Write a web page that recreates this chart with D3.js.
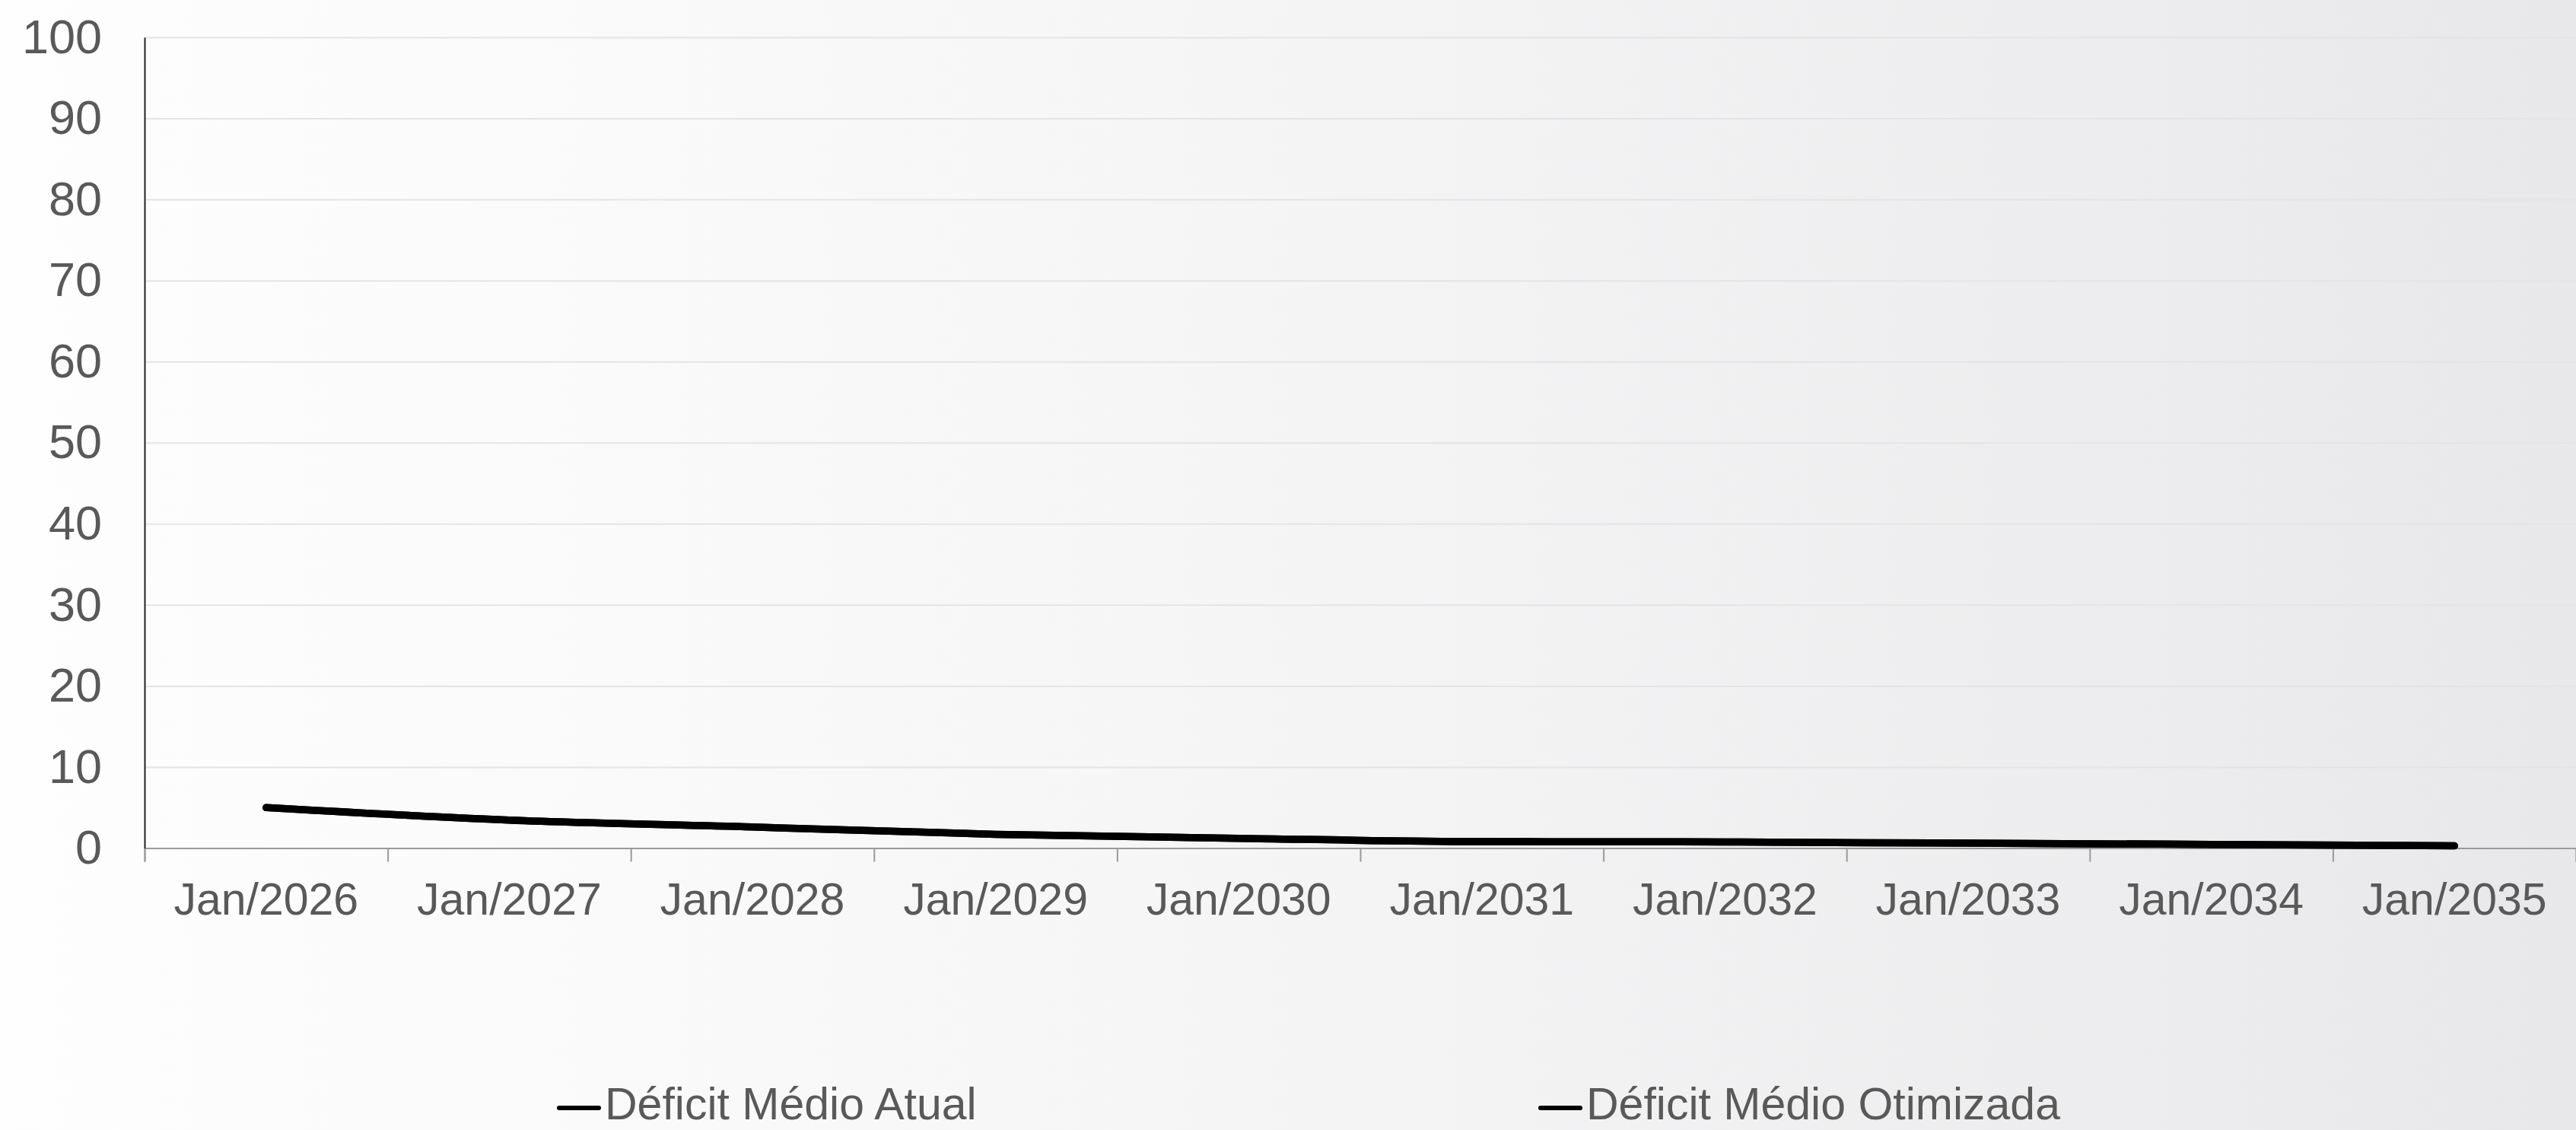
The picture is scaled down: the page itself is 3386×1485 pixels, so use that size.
<!DOCTYPE html>
<html><head><meta charset="utf-8">
<script src="https://cdn.jsdelivr.net/npm/d3@7/dist/d3.min.js"></script>
<style>
html,body{margin:0;padding:0;overflow:hidden;}
text{font-family:"Liberation Sans",Arial,sans-serif;}
</style></head>
<body>
<svg id="chart" width="3386" height="1485"></svg>
<script>
const categories = ["Jan/2026","Jan/2027","Jan/2028","Jan/2029","Jan/2030","Jan/2031","Jan/2032","Jan/2033","Jan/2034","Jan/2035"];
const deficitAtual = [5.0, 3.45, 2.6, 1.7, 1.2, 0.8, 0.75, 0.6, 0.45, 0.27];
const deficitOtimizada = [5.0, 3.45, 2.6, 1.7, 1.2, 0.8, 0.75, 0.6, 0.45, 0.27];
const yTicks = [0,10,20,30,40,50,60,70,80,90,100];
const seriesNames = ["Déficit Médio Atual","Déficit Médio Otimizada"];

const W = 3386, H = 1485;
const m = {left:190, right:0, top:49};
const svg = d3.select("#chart");
const defs = svg.append("defs");
const grad = defs.append("linearGradient").attr("id","bg").attr("x1","0").attr("y1","0").attr("x2","1").attr("y2","0");
grad.append("stop").attr("offset","0%").attr("stop-color","#fefefe");
grad.append("stop").attr("offset","45%").attr("stop-color","#f6f6f7");
grad.append("stop").attr("offset","100%").attr("stop-color","#e8e8ea");
svg.append("rect").attr("width",W).attr("height",H).attr("fill","url(#bg)");

const x = d3.scaleBand().domain(categories).range([m.left, W - m.right]).padding(0);
const xi = d3.scaleLinear().domain([0, categories.length]).range([m.left, W - m.right]);
const y = d3.scaleLinear().domain([0,100]).range([1114.5, m.top]);

// gridlines
svg.append("g").attr("transform",`translate(${m.left},0)`)
  .call(d3.axisLeft(y).tickValues(yTicks.slice(1)).tickSize(-(W - m.right - m.left)).tickFormat(""))
  .call(g=>g.select(".domain").remove())
  .call(g=>g.selectAll("line").attr("stroke","#e4e4e6").attr("stroke-width",2));

// x tick marks at band boundaries
svg.append("g").attr("transform",`translate(0,${y(0)})`)
  .call(d3.axisBottom(xi).tickValues(d3.range(0, categories.length+1)).tickSize(18).tickFormat(""))
  .call(g=>g.select(".domain").attr("stroke","#9a9a9a").attr("stroke-width",2))
  .call(g=>g.selectAll("line").attr("stroke","#9a9a9a").attr("stroke-width",2));

// x labels
svg.append("g").attr("transform",`translate(0,${y(0)})`)
  .call(d3.axisBottom(x).tickSize(0).tickPadding(46))
  .call(g=>g.select(".domain").remove())
  .call(g=>g.selectAll("text").attr("fill","#595959").attr("font-size","59px")
     .attr("font-family","'Liberation Sans',Arial,sans-serif"));

// y axis
svg.append("g").attr("transform",`translate(${m.left},0)`)
  .call(d3.axisLeft(y).tickValues(yTicks).tickSize(0).tickPadding(56))
  .call(g=>g.select(".domain").attr("stroke","#222").attr("stroke-width",2))
  .call(g=>g.selectAll("text").attr("fill","#595959").attr("font-size","63px")
     .attr("font-family","'Liberation Sans',Arial,sans-serif"));

const line = d3.line()
  .x((d,i)=>x(categories[i]) + x.bandwidth()/2)
  .y(d=>y(d))
  .curve(d3.curveMonotoneX);

[deficitAtual, deficitOtimizada].forEach(s=>{
  svg.append("path").datum(s).attr("d",line)
    .attr("fill","none").attr("stroke","#000").attr("stroke-width",9.5)
    .attr("stroke-linecap","round").attr("stroke-linejoin","round");
});

// legend
const legendX = [733, 2023];
seriesNames.forEach((n,i)=>{
  const g = svg.append("g").attr("transform",`translate(${legendX[i]},1456)`);
  g.append("line").attr("x1",2).attr("x2",54).attr("y1",0).attr("y2",0)
    .attr("stroke","#000").attr("stroke-width",6).attr("stroke-linecap","round");
  g.append("text").attr("x",62).attr("y",15).text(n)
    .attr("fill","#595959").attr("font-size","59px");
});
</script>
</body></html>
